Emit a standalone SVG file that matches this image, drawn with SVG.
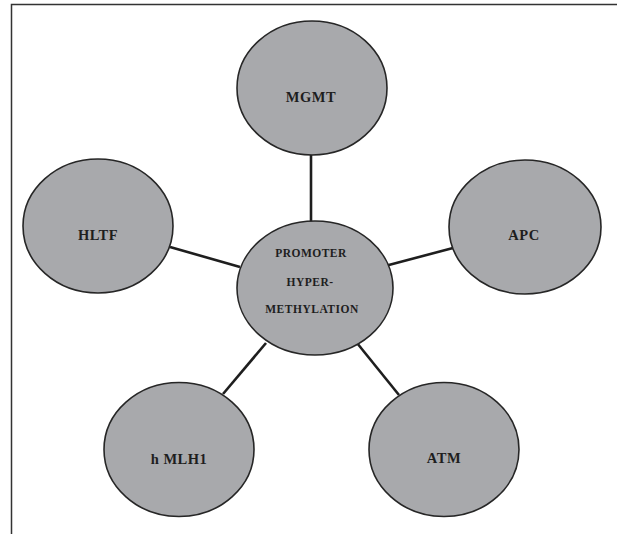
<svg xmlns="http://www.w3.org/2000/svg" width="617" height="534" viewBox="0 0 617 534">
<style>
.node ellipse{fill:#a8a9ac;stroke:#262626;stroke-width:1.6}
.lbl{font-family:"Liberation Serif","Times New Roman",serif;font-weight:bold;font-size:14.5px;fill:#1e1e1e;text-anchor:middle;letter-spacing:0.5px}
.small{font-size:11.5px;letter-spacing:0.5px}
#connectors line{stroke:#1e1e1e;stroke-width:2.6}
.frame{stroke:#333;stroke-width:1.5;fill:none}
</style>
<rect width="617" height="534" fill="#fff"/>
<path class="frame" d="M11.5,534 V4.5 H617"/>
<g id="connectors">
<line x1="311" y1="155" x2="311" y2="222"/>
<line x1="170" y1="247" x2="240" y2="267"/>
<line x1="453" y1="248" x2="385" y2="266"/>
<line x1="223" y1="394" x2="266" y2="343"/>
<line x1="399" y1="395" x2="357" y2="343"/>
</g>
<g id="center" class="node">
<ellipse cx="315" cy="288" rx="78" ry="67"/>
<text class="lbl small" x="311" y="257">PROMOTER</text>
<text class="lbl small" x="310" y="286">HYPER-</text>
<text class="lbl small" x="312" y="313">METHYLATION</text>
</g>
<g id="mgmt" class="node">
<ellipse cx="312" cy="88" rx="75" ry="67"/>
<text class="lbl" x="311" y="102">MGMT</text>
</g>
<g id="hltf" class="node">
<ellipse cx="98" cy="226" rx="75" ry="67"/>
<text class="lbl" x="98" y="240">HLTF</text>
</g>
<g id="apc" class="node">
<ellipse cx="525" cy="227" rx="76" ry="67"/>
<text class="lbl" x="524" y="240">APC</text>
</g>
<g id="hmlh1" class="node">
<ellipse cx="179" cy="449.5" rx="75" ry="67"/>
<text class="lbl" x="179" y="464">h MLH1</text>
</g>
<g id="atm" class="node">
<ellipse cx="444" cy="449.5" rx="75" ry="67"/>
<text class="lbl" x="444" y="463">ATM</text>
</g>
</svg>
